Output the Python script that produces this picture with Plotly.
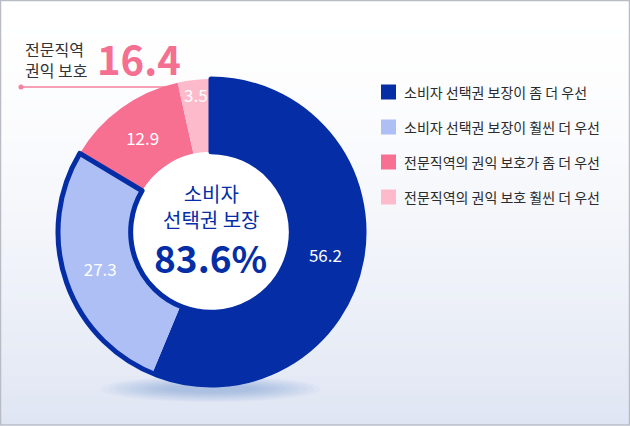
import plotly.graph_objects as go

# ---- data ----
labels = ["소비자 선택권 보장이 좀 더 우선",
          "소비자 선택권 보장이 훨씬 더 우선",
          "전문직역의 권익 보호가 좀 더 우선",
          "전문직역의 권익 보호 훨씬 더 우선"]
values = [56.2, 27.3, 12.9, 3.5]
colors = ["#052ea6", "#adbff5", "#f77091", "#fdbacb"]
group_names = ["소비자<br>선택권 보장", "전문직역<br>권익 보호"]
group_totals = [83.6, 16.4]

W, H = 630, 426
FONT = "Noto Sans CJK KR"


def px(x, y):
    return x / W, 1 - y / H


cx, cy, R = 211, 232, 153
dx0, dy1 = px(cx - R, cy - R)
dx1, dy0 = px(cx + R, cy + R)
domain = dict(x=[dx0, dx1], y=[dy0, dy1])
HOLE = 0.525

fig = go.Figure()
fig.add_trace(go.Pie(
    labels=labels, values=values, sort=False, direction="clockwise", rotation=0,
    hole=HOLE, domain=domain,
    marker=dict(colors=colors, line=dict(width=0)),
    textinfo="value", textposition="inside", insidetextorientation="horizontal",
    textfont=dict(family=FONT, size=17, color="white"),
    hoverinfo="skip", showlegend=False,
))
# outline around consumer group
grp_vals = [sum(values[:2]), sum(values[2:])]
fig.add_trace(go.Pie(
    values=grp_vals, labels=["g1", "g2"], sort=False, direction="clockwise", rotation=0,
    hole=HOLE, domain=domain,
    marker=dict(colors=["rgba(0,0,0,0)", "rgba(0,0,0,0)"],
                line=dict(color=["#052ea6", "rgba(0,0,0,0)"], width=[5, 0])),
    textinfo="none", hoverinfo="skip", showlegend=False,
))

shapes = []
# background gradient
N = 60
top = (255, 255, 255)
bot = (223, 229, 243)
for i in range(N):
    t = (i + 0.5) / N
    f = t ** 1.6
    c = tuple(round(top[k] + (bot[k] - top[k]) * f) for k in range(3))
    shapes.append(dict(type="rect", xref="paper", yref="paper",
                       x0=0, x1=1, y0=1 - (i + 1) / N - 0.002, y1=1 - i / N,
                       fillcolor="rgb(%d,%d,%d)" % c, line=dict(width=0), layer="below"))
# soft shadow under donut
for k in range(10):
    rx = 110 - k * 7
    ry = 13 - k * 1.0
    x0, y0 = px(cx - rx, 389 + ry)
    x1, y1 = px(cx + rx, 389 - ry)
    shapes.append(dict(type="circle", xref="paper", yref="paper", x0=x0, x1=x1, y0=y0, y1=y1,
                       fillcolor="rgba(70,100,210,0.035)", line=dict(width=0), layer="below"))
# white hole
hr = R * HOLE
h0x, h0y = px(cx - hr, cy + hr)
h1x, h1y = px(cx + hr, cy - hr)
shapes.append(dict(type="circle", xref="paper", yref="paper", x0=h0x, x1=h1x, y0=h0y, y1=h1y,
                   fillcolor="white", line=dict(width=0), layer="below"))
# pink pointer line + dot
lx0, ly = px(21, 87)
lx1, _ = px(190, 87)
shapes.append(dict(type="line", xref="paper", yref="paper", x0=lx0, x1=lx1, y0=ly, y1=ly,
                   line=dict(color="#f7819e", width=1.5), layer="below"))
d0x, d0y = px(18.5, 89.5)
d1x, d1y = px(23.5, 84.5)
shapes.append(dict(type="circle", xref="paper", yref="paper", x0=d0x, x1=d1x, y0=d0y, y1=d1y,
                   fillcolor="#f7819e", line=dict(width=0), layer="below"))
# border
shapes.append(dict(type="rect", xref="paper", yref="paper",
                   x0=0.6 / W, x1=1 - 0.6 / W, y0=1.2 / H, y1=1 - 0.6 / H,
                   line=dict(color="#b9bcc4", width=1.3), fillcolor="rgba(0,0,0,0)"))

annotations = []
# legend (manual)
for i, (lab, col) in enumerate(zip(labels, colors)):
    yc = 92 + i * 35
    a0x, a0y = px(381, yc + 7.5)
    a1x, a1y = px(396, yc - 7.5)
    shapes.append(dict(type="rect", xref="paper", yref="paper", x0=a0x, x1=a1x, y0=a0y, y1=a1y,
                       fillcolor=col, line=dict(width=0)))
    tx, ty = px(402, yc)
    annotations.append(dict(text=lab, x=tx, y=ty, xref="paper", yref="paper",
                            xanchor="left", yanchor="middle", showarrow=False,
                            font=dict(family=FONT, size=14, color="#2b2b2b")))

# center text
tx, ty = px(cx, 206)
annotations.append(dict(text=group_names[0], x=tx, y=ty, xref="paper", yref="paper",
                        xanchor="center", yanchor="middle", showarrow=False,
                        font=dict(family=FONT, size=20, color="#052ea6")))
tx, ty = px(cx, 257)
annotations.append(dict(text="<b>%.1f%%</b>" % group_totals[0], x=tx, y=ty, xref="paper", yref="paper",
                        xanchor="center", yanchor="middle", showarrow=False,
                        font=dict(family=FONT, size=37, color="#052ea6")))
# top-left callout
tx, ty = px(23, 59)
annotations.append(dict(text=group_names[1], x=tx, y=ty, xref="paper", yref="paper",
                        xanchor="left", yanchor="middle", align="left", showarrow=False,
                        font=dict(family=FONT, size=16, color="#333333")))
tx, ty = px(95, 58)
annotations.append(dict(text="<b>%.1f</b>" % group_totals[1], x=tx, y=ty, xref="paper", yref="paper",
                        xanchor="left", yanchor="middle", showarrow=False,
                        font=dict(family=FONT, size=40, color="#f56f91")))

fig.update_layout(
    width=W, height=H, margin=dict(l=0, r=0, t=0, b=0),
    paper_bgcolor="white", plot_bgcolor="white",
    shapes=shapes, annotations=annotations,
    uniformtext=dict(minsize=17, mode="show"),
    showlegend=False,
)
fig.write_html("out.html")
